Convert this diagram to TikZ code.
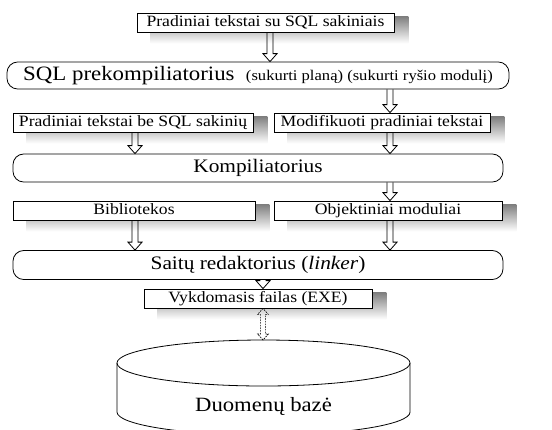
\documentclass[tikz,border=0pt]{standalone}
\usepackage{fontspec}
\setmainfont{Liberation Serif}[FakeStretch=1.12]
\usetikzlibrary{calc}
\usetikzlibrary{backgrounds}
\definecolor{shade}{rgb}{0.8, 0.8, 0.82}

\begin{document}
\begin{tikzpicture}[x=0.75pt, y=-0.75pt, line width=0.6pt,
  txtbox/.style={draw, fill=white, inner sep=0pt, minimum height=14.25pt,
    text height=8.4pt, text depth=2.8pt, font=\fontsize{11.8}{14}\selectfont},
  procbox/.style={draw, fill=white, rounded corners=8pt, inner sep=0pt,
    font=\fontsize{14.3}{17}\selectfont},
  hollow/.style={to path={let \p1=(\tikztostart), \p2=(\tikztotarget) in
    (\x1-2.3pt,\y1) -- (\x1-2.3pt,\y2+6pt) -- (\x1-5.3pt,\y2+6pt) -- (\x1,\y2)
    -- (\x1+5.3pt,\y2+6pt) -- (\x1+2.3pt,\y2+6pt) -- (\x1+2.3pt,\y1)}},
  dhollow/.style={dash pattern=on 1.2pt off 0.8pt, line width=0.5pt,
    to path={let \p1=(\tikztostart), \p2=(\tikztotarget) in
    (\x1,\y1) -- (\x1-4pt,\y1-4.5pt) -- (\x1-1.8pt,\y1-4.5pt) -- (\x1-1.8pt,\y2+4.5pt)
    -- (\x1-4pt,\y2+4.5pt) -- (\x1,\y2) -- (\x1+4pt,\y2+4.5pt) -- (\x1+1.8pt,\y2+4.5pt)
    -- (\x1+1.8pt,\y1-4.5pt) -- (\x1+4pt,\y1-4.5pt) -- cycle}}]
\useasboundingbox (0,0) rectangle (552,429);

% arrow columns
\coordinate (acol) at (270,0);
\coordinate (lcol) at (135,0);
\coordinate (rcol) at (390,0);
\coordinate (ccol) at (263,0);

\node[txtbox, minimum width=192.75pt] (src) at (265.5,22.5) {Pradiniai tekstai su SQL sakiniais};
\node[procbox, minimum width=376.5pt, minimum height=20.25pt] (precomp) at (258,75.5)
  {\fontsize{15.3}{17}\selectfont SQL prekompiliatorius\ \
   {\fontsize{11.1}{13}\selectfont (sukurti planą) (sukurti ryšio modulį)}};
\node[txtbox, minimum width=180pt] (plain) at (133,122.5) {Pradiniai tekstai be SQL sakinių};
\node[txtbox, minimum width=162pt] (modif) at (382,122.5) {Modifikuoti pradiniai tekstai};
\node[procbox, minimum width=367.5pt, minimum height=21pt] (comp) at (258,168) {Kompiliatorius};
\node[txtbox, minimum width=181.5pt] (lib) at (134,210.5) {Bibliotekos};
\node[txtbox, minimum width=171pt] (obj) at (388,210.5) {Objektiniai moduliai};
\node[procbox, minimum width=367.5pt, minimum height=21.75pt] (link) at (258,265)
  {Saitų redaktorius (\textit{linker})};
\node[txtbox, minimum width=171pt] (exe) at (258,298.5) {Vykdomasis failas (EXE)};

% shadows
\begin{scope}[on background layer]
\foreach \n in {src, plain, modif, lib, obj, exe}
  \fill[shade] ($(\n.south west)+(14,11)$) rectangle ($(\n.north east)+(14,4)$);
\end{scope}

% database
\draw (117,363) -- (117,412) arc[start angle=180, end angle=360, x radius=109.9pt, y radius=17.25pt]
  -- (410,363);
\draw (263.5,363) ellipse[x radius=109.9pt, y radius=17.25pt];
\node[font=\fontsize{15.2}{17}\selectfont] (db) at (263.5,406) {Duomenų bazė};
\coordinate (dbtop) at (263,340);

\draw[hollow] (src.south -| acol) to (precomp.north -| acol);
\draw[hollow] (precomp.south -| rcol) to (modif.north -| rcol);
\draw[hollow] (plain.south -| lcol) to (comp.north -| lcol);
\draw[hollow] (modif.south -| rcol) to (comp.north -| rcol);
\draw[hollow] (comp.south -| rcol) to (obj.north -| rcol);
\draw[hollow] (lib.south -| lcol) to (link.north -| lcol);
\draw[hollow] (obj.south -| rcol) to (link.north -| rcol);
\draw[hollow] (link.south -| ccol) to (exe.north -| ccol);
\draw[dhollow] (exe.south -| ccol) to (dbtop);
\end{tikzpicture}
\end{document}
